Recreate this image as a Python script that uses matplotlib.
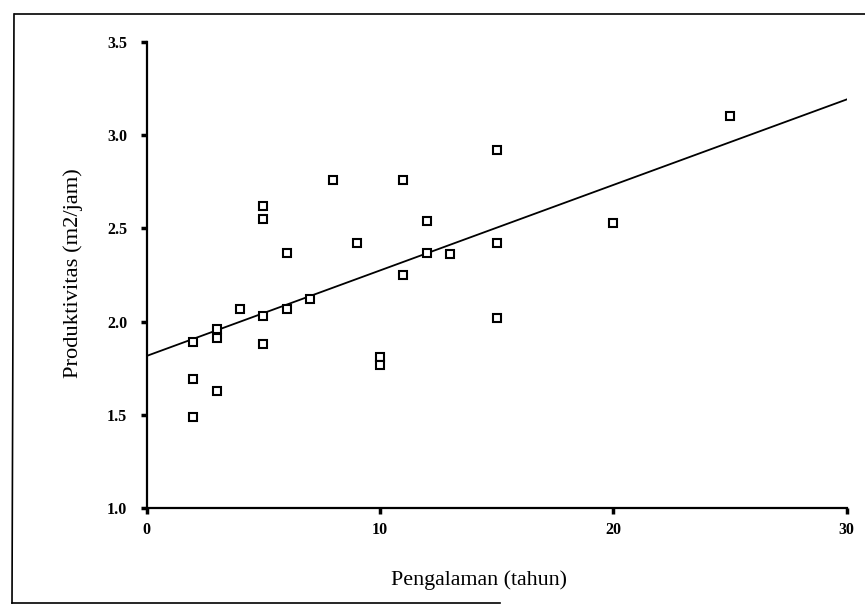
import matplotlib
matplotlib.use("Agg")
import matplotlib.pyplot as plt
import numpy as np
from matplotlib.lines import Line2D

# Data
pengalaman = [2, 2, 2, 3, 3, 3, 4, 5, 5, 5, 5, 6, 6, 7, 8, 9, 10, 10,
              11, 11, 12, 12, 13, 15, 15, 15, 20, 25]
produktivitas = [1.49, 1.69, 1.89, 1.63, 1.91, 1.96, 2.07, 2.03, 1.88, 2.55,
                 2.62, 2.07, 2.37, 2.12, 2.76, 2.42, 1.81, 1.77, 2.76, 2.25,
                 2.54, 2.37, 2.36, 2.92, 2.42, 2.02, 2.53, 3.10]
fit_intercept = 1.816
fit_slope = 0.0458
fit_x = [0, 30]

x_ticks = [0, 10, 20, 30]
x_tick_labels = ["0", "10", "20", "30"]
y_ticks = [1.0, 1.5, 2.0, 2.5, 3.0, 3.5]
y_tick_labels = ["1.0", "1.5", "2.0", "2.5", "3.0", "3.5"]

plt.rcParams['font.family'] = ['Liberation Serif', 'DejaVu Serif']

fig = plt.figure(figsize=(8.65, 6.06), dpi=100)
ax = fig.add_axes([146.6 / 865, 1 - 508.3 / 606, 700 / 865, (508.3 - 41.6) / 606])

fx = np.array(fit_x, dtype=float)
ax.plot(fx, fit_intercept + fit_slope * fx, color='black', lw=1.3, zorder=2)
ax.plot(pengalaman, produktivitas, linestyle='none', marker='s', markersize=5.2,
        markerfacecolor='white', markeredgecolor='black', markeredgewidth=1.5, zorder=3)

ax.set_xlim(0, 30)
ax.set_ylim(1.0, 3.5)
ax.set_xticks(x_ticks)
ax.set_xticklabels(x_tick_labels, fontweight='bold')
ax.set_yticks(y_ticks)
ax.set_yticklabels(y_tick_labels, fontweight='bold')
for s in ['top', 'right']:
    ax.spines[s].set_visible(False)
for s in ['left', 'bottom']:
    ax.spines[s].set_linewidth(1.6)
ax.tick_params(axis='both', direction='out', length=4, width=2.5, labelsize=11.5)
ax.tick_params(axis='y', pad=10)
ax.tick_params(axis='x', pad=6)

ax.set_xlabel("Pengalaman (tahun)", fontsize=15.8)
ax.set_ylabel("Produktivitas (m2/jam)", fontsize=16.2)
ax.xaxis.set_label_coords((479 - 146.6) / 700, -(570 - 508.3) / 466.7)
ax.yaxis.set_label_coords(-(146.6 - 83) / 700, (508.3 - 273) / 466.7)

# scanned frame around the figure
W, H = 865, 606
def fl(x0, y0, x1, y1, lw=1.2):
    fig.add_artist(Line2D([x0 / W, x1 / W], [1 - y0 / H, 1 - y1 / H],
                          color='black', lw=lw, transform=fig.transFigure))
fl(15, 14, 865, 14)
fl(14, 14, 12, 603)
fl(12, 603, 500, 603)

fig.savefig("out.png", dpi=100)
